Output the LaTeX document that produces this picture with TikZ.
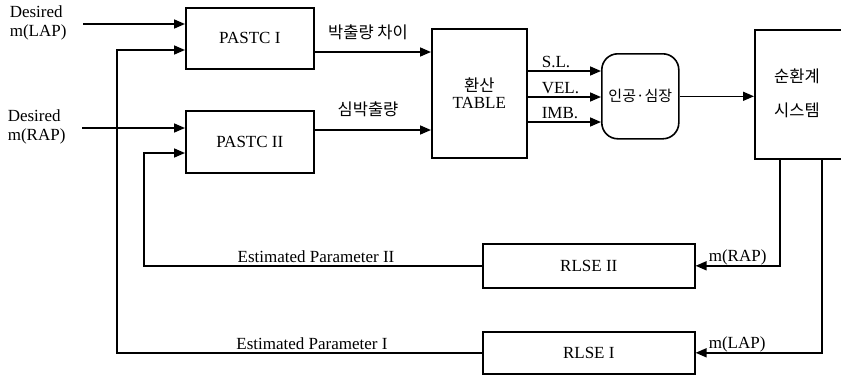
\documentclass[tikz,border=0pt]{standalone}
\usepackage{fontspec}
\setmainfont{Liberation Serif}
\newfontfamily\kr{Noto Sans CJK KR}
\usetikzlibrary{arrows.meta}
\begin{document}
\begin{tikzpicture}[x=1pt,y=-1pt,
  line width=1.6pt,
  box/.style={draw,line width=1.6pt,anchor=north west,inner sep=0pt,font=\fontsize{17}{19}\selectfont},
  arr/.style={-{Triangle[length=11pt,width=9pt]}},
  lbl/.style={font=\fontsize{17}{19}\selectfont,inner sep=1pt},
  krl/.style={font=\kr\fontsize{16.5}{20}\selectfont,inner sep=1pt}]
\useasboundingbox (0,0) rectangle (841,375);
\clip (0,0) rectangle (841,375);

% blocks
\node[box,minimum width=128pt,minimum height=61pt] (p1) at (185,7) {PASTC I};
\node[box,minimum width=128pt,minimum height=62pt] (p2) at (185,110) {PASTC II};
\node[box,minimum width=95pt,minimum height=129pt,align=center] (tab) at (431,28)
  {{\kr\fontsize{16.5}{20}\selectfont 환산}\\[-2pt]TABLE};
\node[box,minimum width=77pt,minimum height=85pt,rounded corners=16pt] (heart) at (601,53)
  {\kr\fontsize{15}{18}\selectfont 인공·심장};
\node[box,minimum width=110pt,minimum height=129pt] (sys) at (754,29) {};
\node[krl,anchor=center,align=center] (systxt) at (797,93)
  {순환계\\[14pt]시스템};
\node[box,minimum width=212pt,minimum height=44pt] (r2) at (482,243) {RLSE II};
\node[box,minimum width=212pt,minimum height=42pt] (r1) at (482,331) {RLSE I};

% inputs
\node[lbl,anchor=north west,align=left] (dl) at (8,4) {Desired\\m(LAP)};
\node[lbl,anchor=north west,align=left] (dr) at (6,108) {Desired\\m(RAP)};
\coordinate (inL) at (83,24);
\coordinate (inR) at (82,128);
\draw[arr] (inL) -- (inL -| p1.west);
\draw[arr] (inR) -- (inR -| p2.west);

% feedback lines
\coordinate (c1) at (117,50);
\coordinate (c2) at (144,153);
\draw[arr] (r1.west) -| (c1) -- (c1 -| p1.west);
\draw[arr] (r2.west) -| (c2) -- (c2 -| p2.west);
\node[lbl,anchor=south] (ep2) at (316,264) {Estimated Parameter II};
\node[lbl,anchor=south] (ep1) at (312,351) {Estimated Parameter I};

% PASTC -> table
\coordinate (a1) at (313,52);
\coordinate (a2) at (313,130);
\draw[arr] (a1) -- (a1 -| tab.west);
\draw[arr] (a2) -- (a2 -| tab.west);
\node[krl,anchor=south] (t1) at (368,42) {박출량 차이};
\node[krl,anchor=south] (t2) at (368,119) {심박출량};

% table -> heart
\coordinate (s1) at (526,71);
\coordinate (s2) at (526,97);
\coordinate (s3) at (526,122);
\draw[arr] (s1) -- (s1 -| heart.west);
\draw[arr] (s2) -- (s2 -| heart.west);
\draw[arr] (s3) -- (s3 -| heart.west);
\node[lbl,anchor=south west] (sl) at (540,70) {S.L.};
\node[lbl,anchor=south west] (vel) at (540,96) {VEL.};
\node[lbl,anchor=south west] (imb) at (540,121) {IMB.};

% heart -> system
\draw[arr] (heart.east) -- (heart.east -| sys.west);

% system -> RLSE
\coordinate (o2) at (780,158);
\coordinate (o1) at (822,158);
\draw[arr] (o2) |- (r2.east);
\draw[arr] (o1) |- (r1.east);
\node[lbl,anchor=south west] (mr) at (707,267) {m(RAP)};
\node[lbl,anchor=south west] (ml) at (707,354) {m(LAP)};
\end{tikzpicture}
\end{document}
